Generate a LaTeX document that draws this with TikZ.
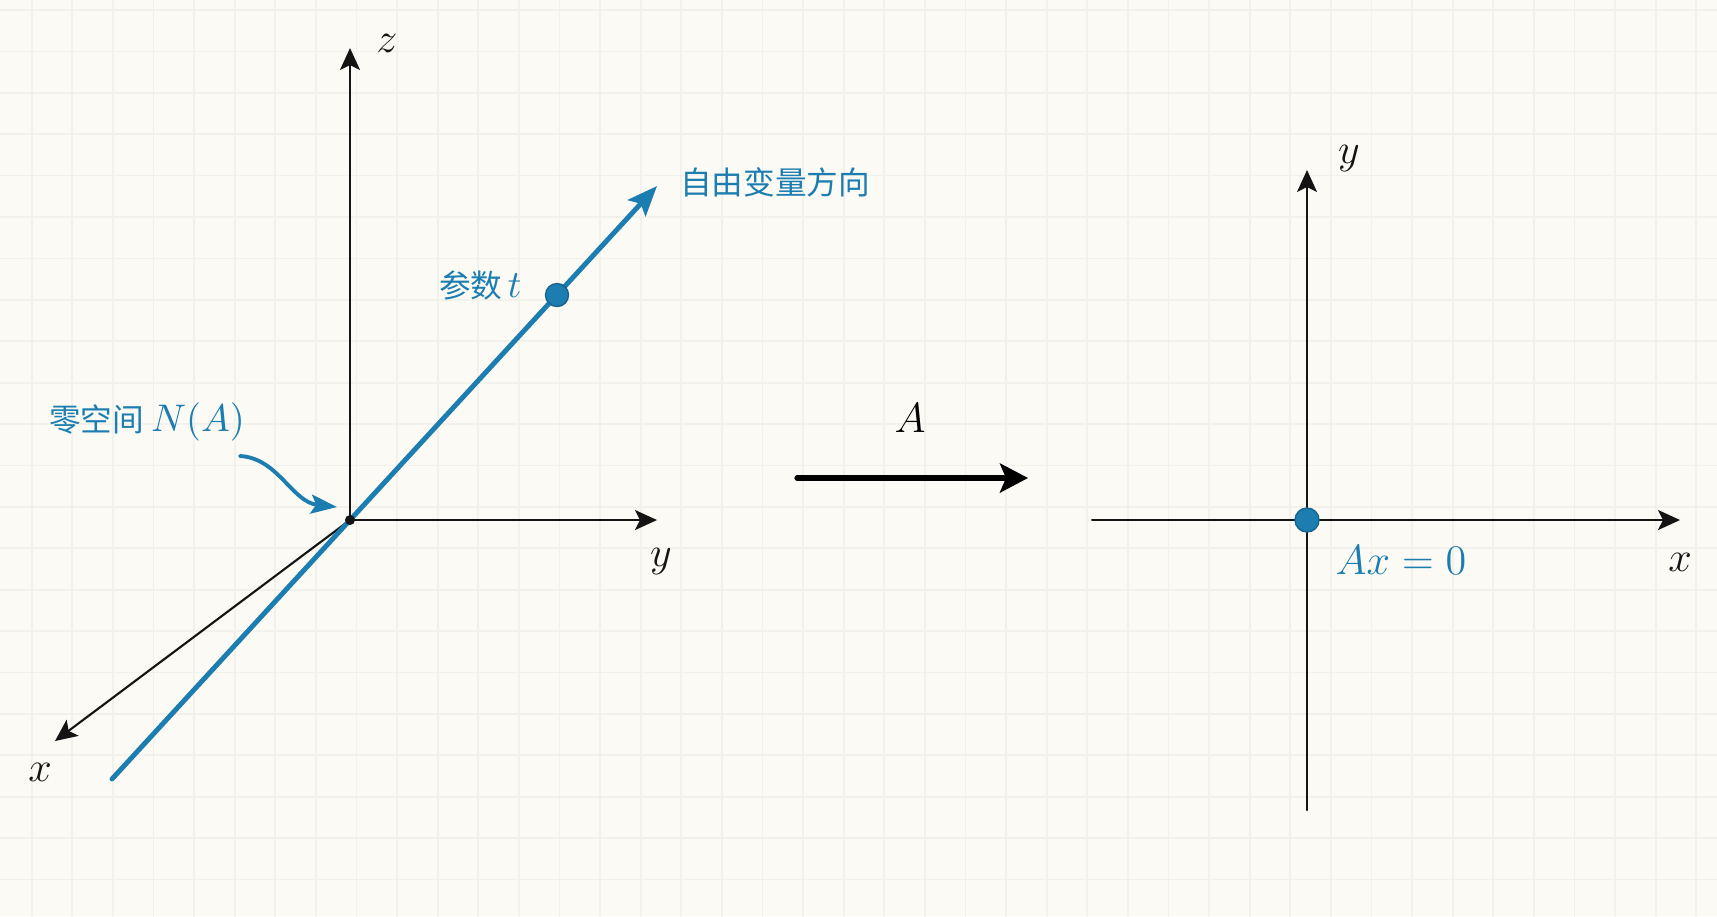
\documentclass[tikz,border=0pt]{standalone}
\usepackage{fontspec}
\usepackage{amsmath}
\newfontfamily\cjk{Noto Sans CJK SC}
\usetikzlibrary{arrows.meta,calc,positioning}
\definecolor{NSblue}{HTML}{1C7DB0}
\definecolor{NSink}{HTML}{141414}
\definecolor{NSpaper}{HTML}{FBFAF5}
\definecolor{NSgrid}{HTML}{F2F1EB}

\begin{document}
\begin{tikzpicture}[
  x=0.1mm,y=-0.1mm,
  line cap=round,line join=round,
  gridline/.style={draw=NSgrid,line width=0.5pt},
  axis/.style={draw=NSink,line width=0.6pt,-{Stealth[length=2.2mm,width=2mm,inset=0.5mm]}},
  freeline/.style={draw=NSblue,line width=1.4pt,-{Stealth[length=3mm,width=2.4mm,inset=0.6mm]}},
  pointer/.style={draw=NSblue,line width=1.1pt,-{Stealth[length=2.6mm,width=1.9mm,inset=0.5mm]}},
  mapping/.style={draw=black,line width=1.5pt,-{Stealth[length=2.8mm,width=2.9mm,inset=0.6mm]}},
  axlabel/.style={font=\fontsize{13}{15}\selectfont,text=NSink},
  bluelabel/.style={font=\fontsize{9}{12}\selectfont,text=NSblue},
  bigblue/.style={font=\fontsize{13}{16}\selectfont,text=NSblue}
]

\useasboundingbox (0,0) rectangle (1717,916);
\fill[NSpaper] (0,0) rectangle (1717,916);
\foreach \i in {0,...,41}{\draw[gridline] ({31.7+40.6*\i},0) -- ++(0,916);}
\foreach \j in {0,...,21}{\draw[gridline] (0,{10+41.4*\j}) -- ++(1717,0);}

% left: 3D solution space
\coordinate (O3) at (350,520);
\coordinate (zend) at (350,48);
\coordinate (yend) at (657,520);
\coordinate (xend) at (55,741);
\coordinate (lowend) at (112,779);
\coordinate (topend) at (657,186);

\draw[axis] (O3) -- (zend);
\draw[axis] (O3) -- (yend);
\draw[axis] (O3) -- (xend);
\node[axlabel] (zlab) at (387,43) {$z$};
\node[axlabel] (ylab) at (661,561) {$y$};
\node[axlabel] (xlab) at (40,772) {$x$};

\draw[freeline] (lowend) -- (topend);
\fill[NSink] (O3) circle (5);
\node[circle,fill=NSblue,draw=NSblue!80!black,line width=0.4pt,minimum size=2.3mm,inner sep=0pt] (tpt) at (557,295) {};

\node[bluelabel] (freelab) at (775,182) {\cjk 自由变量方向};
\node[bluelabel,anchor=east] (tlab) at (534,285) {\cjk 参数\,{\fontsize{10.5}{12}\selectfont$t$}};
\node[bluelabel] (nulllab) at (147,422) {\cjk 零空间 {\fontsize{10.5}{12}\selectfont$N(A)$}};
\coordinate (ptail) at (240,456);
\draw[pointer] (ptail) .. controls (278,458) and (292,502) .. (337,507);

% mapping arrow
\coordinate (mapstart) at (797,478);
\coordinate (mapend) at (1028,478);
\draw[mapping] (mapstart) -- (mapend);
\node[axlabel,text=black] (maplab) at (910,418) {$A$};

% right: image plane
\coordinate (O2) at (1307,520);
\coordinate (xleft) at (1092,520);
\coordinate (xright) at (1680,520);
\coordinate (ybot) at (1307,810);
\coordinate (ytop) at (1307,170);
\draw[axis] (xleft) -- (xright);
\draw[axis] (ybot) -- (ytop);
\node[axlabel] (rxlab) at (1680,562) {$x$};
\node[axlabel] (rylab) at (1349,159) {$y$};
\node[circle,fill=NSblue,draw=NSblue!80!black,line width=0.4pt,minimum size=2.4mm,inner sep=0pt] (zero) at (O2) {};
\node[bigblue] (axlab) at (1401,560) {$Ax = 0$};

\end{tikzpicture}
\end{document}
